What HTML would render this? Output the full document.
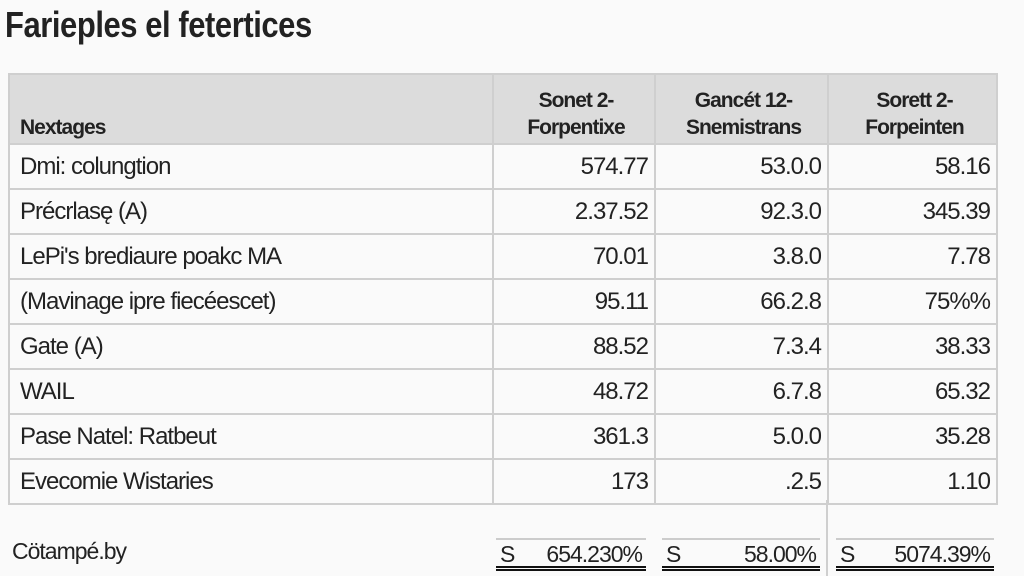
<!DOCTYPE html>
<html><head><style>
body{margin:0;width:1024px;height:576px;background:#fafafa;overflow:hidden;font-family:"Liberation Sans",sans-serif;color:#222;position:relative}
.t{position:absolute;left:5px;top:4px;font-size:36px;letter-spacing:-0.5px;font-weight:bold;transform:scaleX(0.86);transform-origin:left}
table{position:absolute;left:8px;top:73px;border-collapse:collapse;font-size:24px;letter-spacing:-1px}
td{border:2px solid #cfcfcf;height:43px;padding:0 6px 0 10px;white-space:nowrap}
td.n{text-align:right;padding-right:6px}
tr.h td{background:#dcdcdc;height:66px;font-size:21px;line-height:27px;vertical-align:bottom;padding-bottom:2px;font-weight:bold;color:#222}
tr.h td.c{text-align:center}
.vl{position:absolute;left:826px;top:500px;width:2px;height:76px;background:#cfcfcf}
.f{position:absolute;top:538px;height:26px;border-top:2px solid #ccc;border-bottom:5px double #111;font-size:23px;line-height:28px;letter-spacing:-1px}
.f span{position:absolute;left:4px}
.f b{font-weight:normal;position:absolute;right:4px}
</style></head><body>
<div class="t">Farieples el fetertices</div>
<table>
<tr class="h"><td style="width:466px">Nextages</td><td class="c" style="width:144px">Sonet 2-<br>Forpentixe</td><td class="c" style="width:155px">Gancét 12-<br>Snemistrans</td><td class="c" style="width:151px">Sorett 2-<br>Forpeinten</td></tr>
<tr><td>Dmi: colungtion</td><td class="n">574.77</td><td class="n">53.0.0</td><td class="n">58.16</td></tr>
<tr><td>Précrlasę (A)</td><td class="n">2.37.52</td><td class="n">92.3.0</td><td class="n">345.39</td></tr>
<tr><td>LePi's brediaure poakc MA</td><td class="n">70.01</td><td class="n">3.8.0</td><td class="n">7.78</td></tr>
<tr><td>(Mavinage ipre fiecéescet)</td><td class="n">95.11</td><td class="n">66.2.8</td><td class="n">75%%</td></tr>
<tr><td>Gate (A)</td><td class="n">88.52</td><td class="n">7.3.4</td><td class="n">38.33</td></tr>
<tr><td>WAIL</td><td class="n">48.72</td><td class="n">6.7.8</td><td class="n">65.32</td></tr>
<tr><td>Pase Natel: Ratbeut</td><td class="n">361.3</td><td class="n">5.0.0</td><td class="n">35.28</td></tr>
<tr><td>Evecomie Wistaries</td><td class="n">173</td><td class="n">.2.5</td><td class="n">1.10</td></tr>
</table>
<div class="vl"></div>
<div style="position:absolute;left:12px;top:538px;font-size:23px;letter-spacing:-1px">Cötampé.by</div>
<div class="f" style="left:496px;width:150px"><span>S</span><b>654.230%</b></div>
<div class="f" style="left:662px;width:158px"><span>S</span><b>58.00%</b></div>
<div class="f" style="left:836px;width:158px"><span>S</span><b>5074.39%</b></div>
</body></html>
